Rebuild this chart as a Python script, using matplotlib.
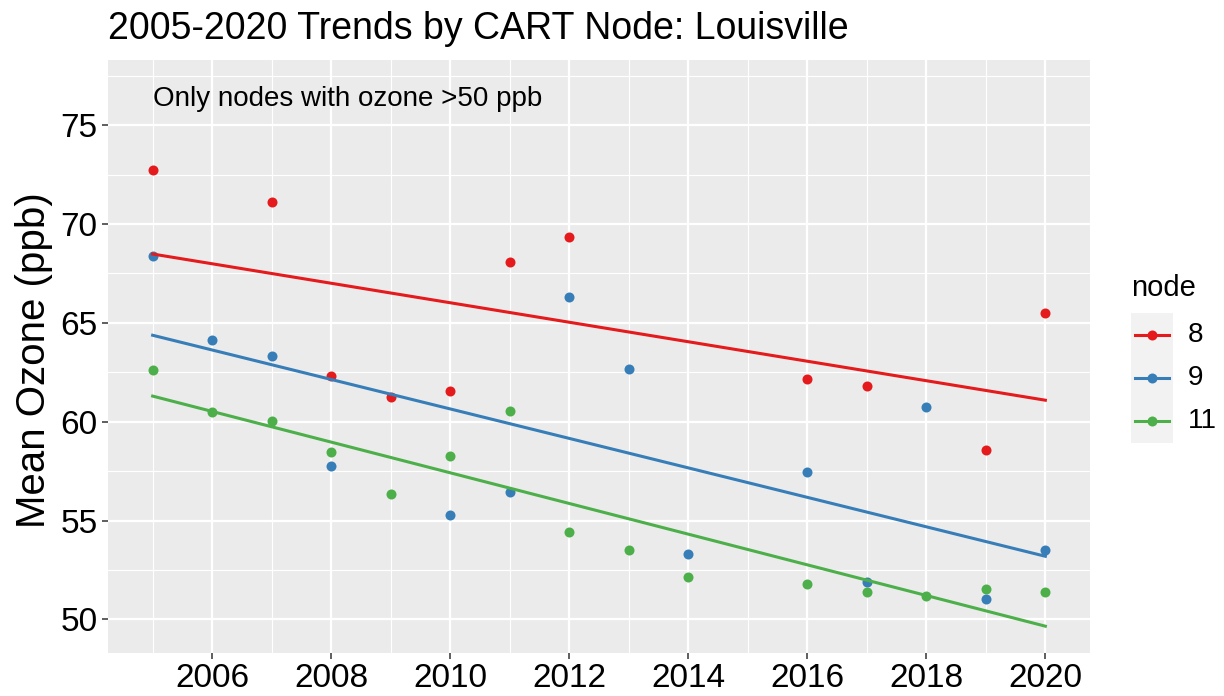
import numpy as np
import matplotlib
matplotlib.use("Agg")
import matplotlib.pyplot as plt
from matplotlib.lines import Line2D
from matplotlib.patches import Rectangle

plt.rcParams['font.family'] = ['Liberation Sans', 'DejaVu Sans']

# node 8
years_8 = [2005, 2007, 2008, 2009, 2010, 2011, 2012, 2016, 2017, 2019, 2020]
ozone_8 = [72.72, 71.11, 62.29, 61.23, 61.57, 68.07, 69.37, 62.18, 61.79, 58.56, 65.49]

# node 9
years_9 = [2005, 2006, 2007, 2008, 2010, 2011, 2012, 2013, 2014, 2016, 2017, 2018, 2019, 2020]
ozone_9 = [68.36, 64.14, 63.33, 57.77, 55.27, 56.45, 66.30, 62.67, 53.31, 57.46, 51.90, 60.72, 51.04, 53.51]

# node 11
years_11 = [2005, 2006, 2007, 2008, 2009, 2010, 2011, 2012, 2013, 2014, 2016, 2017, 2018, 2019, 2020]
ozone_11 = [62.62, 60.47, 60.03, 58.48, 56.35, 58.27, 60.52, 54.44, 53.51, 52.16, 51.77, 51.38, 51.16, 51.53, 51.40]

nodes = ['8', '9', '11']
colors = ['#E41A1C', '#377EB8', '#4DAF4A']
series = [(years_8, ozone_8), (years_9, ozone_9), (years_11, ozone_11)]

W, H = 1224, 696
fig = plt.figure(figsize=(W / 100, H / 100), dpi=100)


def fx(px):
    return px / W


def fy(py):
    return 1 - py / H


ax = fig.add_axes([fx(108), fy(653), fx(1090) - fx(108), fy(60) - fy(653)])
ax.set_facecolor('#EBEBEB')
for s in ax.spines.values():
    s.set_visible(False)

ax.set_xlim(2004.25, 2020.75)
ax.set_ylim(48.3, 78.3)
ax.set_xticks(np.arange(2006, 2021, 2))
ax.set_xticks(np.arange(2005, 2021, 2), minor=True)
ax.set_yticks(np.arange(50, 76, 5))
ax.set_yticks(np.arange(52.5, 78.5, 5), minor=True)
ax.grid(which='major', color='white', linewidth=1.6)
ax.grid(which='minor', color='white', linewidth=0.8)
ax.set_axisbelow(True)
ax.tick_params(which='major', length=4.5, width=1.1, color='#333333',
               labelsize=24, labelcolor='black', pad=3)
ax.tick_params(which='minor', length=0)

for (yrs, vals), c in zip(series, colors):
    ax.scatter(yrs, vals, s=52, color=c, linewidths=0, zorder=3)

for (yrs, vals), c in zip(series, colors):
    x = np.array(yrs, dtype=float)
    m, b = np.polyfit(x, np.array(vals), 1)
    xs = np.array([x.min(), x.max()])
    ax.plot(xs, m * xs + b, color=c, linewidth=2.2, zorder=4)

ax.text(2005, 75.96, 'Only nodes with ozone >50 ppb', fontsize=20,
        ha='left', va='baseline')

fig.text(fx(108), fy(39), '2005-2020 Trends by CART Node: Louisville',
         fontsize=27, ha='left', va='baseline')
fig.text(fx(34), fy(360), 'Mean Ozone (ppb)', fontsize=29, rotation=90,
         ha='center', va='center')

# legend
fig.text(fx(1131), fy(288), 'node', fontsize=21, ha='left', va='center')
fig.add_artist(Rectangle((fx(1131), fy(443)), fx(1173) - fx(1131), fy(313) - fy(443),
                         transform=fig.transFigure, facecolor='#F2F2F2', edgecolor='none'))
for i, (lab, c) in enumerate(zip(nodes, colors)):
    yy = fy(335 + i * 43)
    fig.add_artist(Line2D([fx(1135), fx(1169)], [yy, yy], transform=fig.transFigure,
                          color=c, linewidth=2.2))
    fig.add_artist(Line2D([fx(1152)], [yy], transform=fig.transFigure, color=c,
                          marker='o', markersize=7.2, markeredgewidth=0))
    fig.text(fx(1188), yy, lab, fontsize=20, ha='left', va='center')

fig.savefig('out.png', dpi=100)
